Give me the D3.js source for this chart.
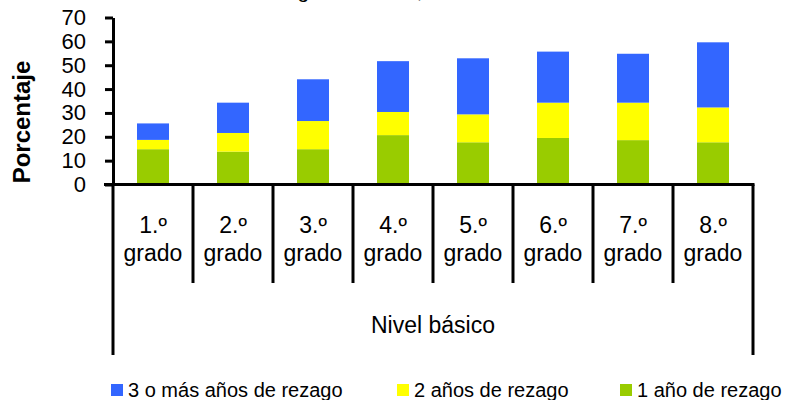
<!DOCTYPE html>
<html>
<head>
<meta charset="utf-8">
<script src="https://cdn.jsdelivr.net/npm/d3@7"></script>
<style>
  body { margin: 0; background: #fff; }
  svg { display: block; font-family: "Liberation Sans", Arial, sans-serif; }
</style>
</head>
<body>
<svg id="plot"></svg>
<script>
// Datos
const grados = ["1.º", "2.º", "3.º", "4.º", "5.º", "6.º", "7.º", "8.º"];
const unAnio = [14.8, 13.8, 14.8, 20.7, 17.7, 19.5, 18.6, 17.7];
const dosAnios = [3.9, 7.8, 11.8, 9.7, 11.7, 14.8, 15.7, 14.6];
const tresOMas = [6.9, 12.7, 17.5, 21.3, 23.5, 21.4, 20.5, 27.3];
const yTicks = [0, 10, 20, 30, 40, 50, 60, 70];

const series = ["uno", "dos", "tres"];
const seriesNames = {uno: "1 año de rezago", dos: "2 años de rezago", tres: "3 o más años de rezago"};
const colors = {uno: "#99cc00", dos: "#ffff00", tres: "#3366ff"};

const width = 788, height = 400;

const svg = d3.select("#plot")
  .attr("width", width)
  .attr("height", height);

// Tabla para d3.stack
const table = grados.map((g, i) => ({grado: g, uno: unAnio[i], dos: dosAnios[i], tres: tresOMas[i]}));
const stacked = d3.stack().keys(series)(table);

const x = d3.scaleBand()
  .domain(grados)
  .range([113, 753])
  .paddingInner(0.6)
  .paddingOuter(0.3);

const y = d3.scaleLinear()
  .domain([0, 70])
  .range([184.5, 17.5]);

// Titulo (en la referencia queda casi fuera del recuadro)
svg.append("text")
  .attr("x", 140)
  .attr("y", -2)
  .attr("font-size", 21)
  .text("Alumnos en rezago educativo, 2010");

// Barras apiladas
svg.append("g")
  .selectAll("g")
  .data(stacked)
  .enter()
  .append("g")
    .attr("fill", d => colors[d.key])
  .selectAll("rect")
  .data(d => d)
  .enter()
  .append("rect")
    .attr("x", d => x(d.data.grado))
    .attr("y", d => y(d[1]))
    .attr("width", x.bandwidth())
    .attr("height", d => y(d[0]) - y(d[1]));

// Eje Y
const yAxis = svg.append("g")
  .attr("transform", "translate(113,0)")
  .call(d3.axisLeft(y).tickValues(yTicks).tickSize(8).tickPadding(19).tickSizeOuter(0));

yAxis.select(".domain").attr("stroke-width", 3);
yAxis.selectAll(".tick line").attr("stroke-width", 3);
yAxis.selectAll(".tick text")
  .attr("font-size", 22)
  .attr("font-family", "Liberation Sans, Arial, sans-serif")
  .attr("fill", "#000");

// Titulo del eje Y
svg.append("text")
  .attr("transform", "translate(30,122) rotate(-90)")
  .attr("text-anchor", "middle")
  .attr("font-size", 24)
  .attr("font-weight", "bold")
  .text("Porcentaje");

// Eje X con separadores de categorias
const gap = (x.step() - x.bandwidth()) / 2;
const bounds = grados.map(g => x(g) - gap).concat([x(grados[grados.length - 1]) + x.bandwidth() + gap]);

const xg = svg.append("g").attr("stroke", "#000").attr("stroke-width", 3);

xg.append("line")
  .attr("x1", 104).attr("x2", 754.5)
  .attr("y1", y(0)).attr("y2", y(0));

xg.selectAll(".sep")
  .data(bounds)
  .enter()
  .append("line")
    .attr("class", "sep")
    .attr("x1", d => d).attr("x2", d => d)
    .attr("y1", y(0))
    .attr("y2", (d, i) => (i === 0 || i === bounds.length - 1) ? 355 : 283);

const labels = svg.append("g")
  .attr("text-anchor", "middle")
  .attr("font-size", 23);

labels.selectAll(".num")
  .data(grados)
  .enter()
  .append("text")
    .attr("x", d => x(d) + x.bandwidth() / 2)
    .attr("y", 233)
    .text(d => d);

labels.selectAll(".grado")
  .data(grados)
  .enter()
  .append("text")
    .attr("x", d => x(d) + x.bandwidth() / 2)
    .attr("y", 261)
    .text("grado");

labels.append("text")
  .attr("x", (bounds[0] + bounds[bounds.length - 1]) / 2)
  .attr("y", 333)
  .text("Nivel básico");

// Leyenda
const legendOrder = ["tres", "dos", "uno"];
const legendX = [111, 397, 620];

const legend = svg.selectAll(".legend")
  .data(legendOrder)
  .enter()
  .append("g")
    .attr("transform", (d, i) => `translate(${legendX[i]},384)`);

legend.append("rect")
  .attr("width", 12)
  .attr("height", 12)
  .attr("fill", d => colors[d]);

legend.append("text")
  .attr("x", 17)
  .attr("y", 13)
  .attr("font-size", 20)
  .text(d => seriesNames[d]);
</script>
</body>
</html>
